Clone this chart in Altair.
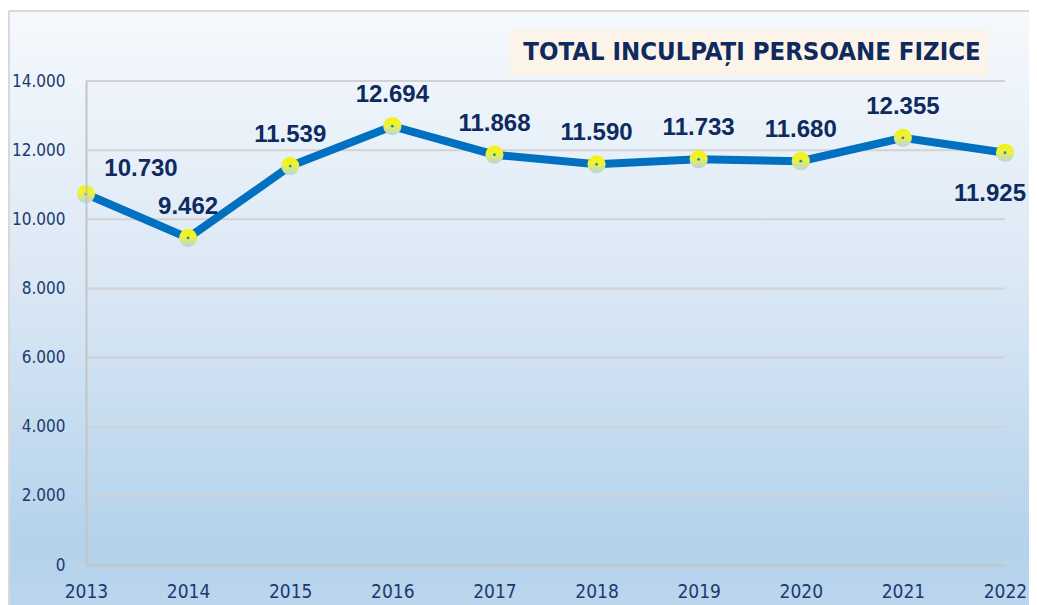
import altair as alt
import pandas as pd

years = ["2013", "2014", "2015", "2016", "2017", "2018", "2019", "2020", "2021", "2022"]
values = [10730, 9462, 11539, 12694, 11868, 11590, 11733, 11680, 12355, 11925]
y_ticks = [0, 2000, 4000, 6000, 8000, 10000, 12000, 14000]
title_text = "TOTAL INCULPAȚI PERSOANE FIZICE"

df = pd.DataFrame({"year": years, "value": values})
df["label"] = [f"{v:,}".replace(",", ".") for v in values]
grid_df = pd.DataFrame({"tick": y_ticks[1:]})
one = pd.DataFrame({"t": [title_text]})

W, H = 919, 484
NAVY = "#0f2a5f"
NARROW = "DejaVu Sans Condensed, Liberation Sans, sans-serif"

x_enc = alt.X("year:O", scale=alt.Scale(type="point", padding=0), title=None,
              axis=alt.Axis(labelAngle=0, labelFont=NARROW, labelFontSize=19, labelColor="#1b3a70",
                            labelPadding=26, labelBaseline="middle", ticks=False, grid=False,
                            domainColor="#c4c4c4", domainWidth=2, zindex=1))
y_enc = alt.Y("value:Q", scale=alt.Scale(domain=[0, 14000], nice=False), title=None,
              axis=alt.Axis(values=y_ticks, labelFont=NARROW, labelFontSize=17, labelColor="#1b3a70",
                            labelPadding=21, ticks=False, grid=False, domainColor="#c4c4c4",
                            domainWidth=2, zindex=1,
                            labelExpr="replace(format(datum.value, ','), ',', '.')"))

bg_grad = alt.LinearGradient(
    gradient="linear", x1=0, x2=0, y1=0, y2=1,
    stops=[alt.GradientStop(color="#f6f9fd", offset=0),
           alt.GradientStop(color="#d9e7f4", offset=0.45),
           alt.GradientStop(color="#b4d2eb", offset=0.85),
           alt.GradientStop(color="#c0d8ee", offset=1)])

bg = alt.Chart(one).mark_rect(fill=bg_grad, strokeWidth=0).encode(
    x=alt.value(-77), x2=alt.value(960), y=alt.value(-70), y2=alt.value(560))
border_left = alt.Chart(one).mark_rule(color="#d9d9d9", strokeWidth=2).encode(
    x=alt.value(-77), y=alt.value(-70), y2=alt.value(560))
border_top = alt.Chart(one).mark_rule(color="#d9d9d9", strokeWidth=2).encode(
    x=alt.value(-77), x2=alt.value(960), y=alt.value(-70))

grid = alt.Chart(grid_df).mark_rule(color="#d2d2d2", strokeWidth=2).encode(
    y=alt.Y("tick:Q", scale=alt.Scale(domain=[0, 14000], nice=False)),
    x=alt.value(0), x2=alt.value(W))

title_box = alt.Chart(one).mark_rect(fill="#fdf4e9").encode(
    x=alt.value(424), x2=alt.value(902), y=alt.value(-51), y2=alt.value(-6))
title = alt.Chart(one).mark_text(font=NARROW, fontSize=25.5, fontWeight="bold", color=NAVY,
                                  align="center", baseline="middle").encode(
    text="t:N", x=alt.value(666), y=alt.value(-29))

base = alt.Chart(df).encode(x=x_enc, y=y_enc)
line = base.mark_line(color="#0070c0", strokeWidth=8)

marker_grad = alt.LinearGradient(
    gradient="linear", x1=0, x2=0, y1=0, y2=1,
    stops=[alt.GradientStop(color="#f4f400", offset=0),
           alt.GradientStop(color="#eef23a", offset=0.45),
           alt.GradientStop(color="#b6d3ee", offset=1)])
points = base.mark_point(filled=True, size=330, fill=marker_grad, opacity=1, strokeWidth=0)
dots = base.mark_point(filled=True, size=8, color="#2e8b8b", opacity=1)

lab_style = dict(font="Liberation Sans", fontSize=24, fontWeight="bold", color=NAVY,
                 align="center", baseline="middle")
labels_mid = base.transform_filter(
    "datum.year != '2013' && datum.year != '2022'"
).mark_text(dy=-31, **lab_style).encode(text="label:N")
label_2013 = base.transform_filter("datum.year == '2013'").mark_text(dx=55, dy=-25, **lab_style).encode(text="label:N")
label_2022 = base.transform_filter("datum.year == '2022'").mark_text(dx=-15, dy=41, **lab_style).encode(text="label:N")

chart = alt.layer(bg, border_left, border_top, grid, title_box, title, line, points, dots,
                  labels_mid, label_2013, label_2022).properties(
    width=W, height=H,
    autosize=alt.AutoSizeParams(type="none"),
    padding={"left": 78, "top": 73, "right": 24, "bottom": 40},
    background="white",
).configure_view(strokeWidth=0)

chart.save("out.html", embed_options={"renderer": "svg", "actions": False})
